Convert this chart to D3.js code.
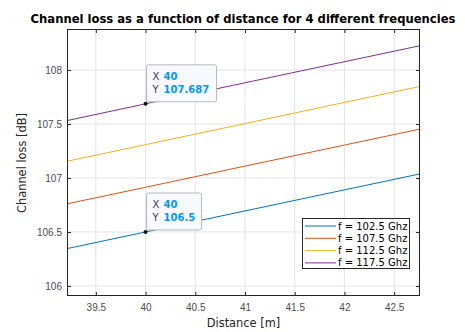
<!DOCTYPE html>
<html lang="en">
<head>
<meta charset="UTF-8">
<title>Channel loss</title>
<script src="https://d3js.org/d3.v7.min.js"></script>
<style>
    body { margin: 0; background: #fff; }
    svg { display: block; font-family: "DejaVu Sans", sans-serif; }
    .tick text { font-size: 10px; fill: #4d4d4d; }
</style>
</head>
<body>
<script>
    // data
    const distances = [39, 40, 41, 42, 43];
    const lossF1 = [106.305, 106.5, 106.695, 106.89, 107.085];
    const lossF2 = [106.72, 106.914, 107.11, 107.305, 107.5];
    const lossF3 = [107.114, 107.309, 107.504, 107.7, 107.895];
    const lossF4 = [107.49, 107.687, 107.882, 108.077, 108.272];
    const seriesNames = ["f = 102.5 Ghz", "f = 107.5 Ghz", "f = 112.5 Ghz", "f = 117.5 Ghz"];
    const xTicks = [39.5, 40, 40.5, 41, 41.5, 42, 42.5];
    const yTicks = [106, 106.5, 107, 107.5, 108];
    const tips = [{ x: 40, y: 107.687, label: "107.687" }, { x: 40, y: 106.5, label: "106.5" }];

    const colors = ["#0072BD", "#D95319", "#EDB120", "#7E2F8E"];
    const allSeries = [lossF1, lossF2, lossF3, lossF4];

    const W = 465, H = 332;
    const plotL = 67, plotR = 420, plotT = 29, plotB = 296;

    const svg = d3.select("body").append("svg").attr("width", W).attr("height", H);

    const x = d3.scaleLinear().domain([39.21, 42.76]).range([plotL, plotR]);
    const y = d3.scaleLinear().domain([105.907, 108.38]).range([plotB, plotT]);

    // grid
    svg.append("g").selectAll("line").data(xTicks).join("line")
        .attr("x1", d => x(d)).attr("x2", d => x(d)).attr("y1", plotT).attr("y2", plotB)
        .attr("stroke", "#e3e3e3").attr("stroke-width", 1);
    svg.append("g").selectAll("line").data(yTicks).join("line")
        .attr("y1", d => y(d)).attr("y2", d => y(d)).attr("x1", plotL).attr("x2", plotR)
        .attr("stroke", "#e3e3e3").attr("stroke-width", 1);

    // lines
    svg.append("clipPath").attr("id", "clip").append("rect")
        .attr("x", plotL).attr("y", plotT).attr("width", plotR - plotL).attr("height", plotB - plotT);

    const line = d3.line().x((d, i) => x(distances[i])).y(d => y(d));
    svg.append("g").attr("clip-path", "url(#clip)").selectAll("path").data(allSeries).join("path")
        .attr("d", line).attr("fill", "none")
        .attr("stroke", (d, i) => colors[i]).attr("stroke-width", 1);

    // axes (ticks point inward)
    const axisColor = "#262626";
    svg.append("g").attr("transform", `translate(0,${plotB})`)
        .call(d3.axisBottom(x).tickValues(xTicks).tickFormat(d3.format("")).tickSizeInner(-4).tickSizeOuter(0).tickPadding(8));
    svg.append("g").attr("transform", `translate(${plotL},0)`)
        .call(d3.axisLeft(y).tickValues(yTicks).tickFormat(d3.format("")).tickSizeInner(-4).tickSizeOuter(0).tickPadding(5));
    svg.append("g").attr("transform", `translate(0,${plotT})`)
        .call(d3.axisTop(x).tickValues(xTicks).tickFormat("").tickSizeInner(-4).tickSizeOuter(0));
    svg.append("g").attr("transform", `translate(${plotR},0)`)
        .call(d3.axisRight(y).tickValues(yTicks).tickFormat("").tickSizeInner(-4).tickSizeOuter(0));
    svg.selectAll(".domain").remove();
    svg.selectAll(".tick line").attr("stroke", axisColor);
    svg.append("rect").attr("x", plotL + 0.5).attr("y", plotT + 0.5)
        .attr("width", plotR - plotL - 1).attr("height", plotB - plotT - 1)
        .attr("fill", "none").attr("stroke", axisColor).attr("stroke-width", 1);

    // title and labels
    svg.append("text").attr("x", 243).attr("y", 23).attr("text-anchor", "middle")
        .attr("font-size", 11.6).attr("font-weight", "bold").attr("fill", "#000")
        .text("Channel loss as a function of distance for 4 different frequencies");
    svg.append("text").attr("x", (plotL + plotR) / 2).attr("y", 327).attr("text-anchor", "middle")
        .attr("font-size", 11.4).attr("fill", "#262626").text("Distance [m]");
    svg.append("text").attr("transform", "translate(26,163) rotate(-90)").attr("text-anchor", "middle")
        .attr("font-size", 11.4).attr("fill", "#262626").text("Channel loss [dB]");

    // data tips
    tips.forEach(t => {
        const px = x(t.x), py = y(t.y);
        const g = svg.append("g").attr("font-size", 10);
        const w = t.label.length > 5 ? 70 : 55;
        g.append("rect").attr("x", px + 1).attr("y", py - 39).attr("width", w).attr("height", 37)
            .attr("rx", 2).attr("fill", "#f8f8ff").attr("stroke", "#b9b9b9");
        g.append("text").attr("x", px + 7).attr("y", py - 24).attr("fill", "#404040").text("X");
        g.append("text").attr("x", px + 18).attr("y", py - 24).attr("fill", "#0099ff")
            .attr("font-weight", "bold").text(t.x);
        g.append("text").attr("x", px + 7).attr("y", py - 11).attr("fill", "#404040").text("Y");
        g.append("text").attr("x", px + 18).attr("y", py - 11).attr("fill", "#0099ff")
            .attr("font-weight", "bold").text(t.label);
        g.append("circle").attr("cx", px).attr("cy", py).attr("r", 2).attr("fill", "#111");
    });

    // legend
    const lg = svg.append("g").attr("transform", "translate(302,218)");
    lg.append("rect").attr("x", 0.5).attr("y", 0.5).attr("width", 107).attr("height", 50)
        .attr("fill", "#fff").attr("stroke", axisColor);
    seriesNames.forEach((name, i) => {
        const ry = 8 + i * 12.3;
        lg.append("line").attr("x1", 3).attr("x2", 34).attr("y1", ry).attr("y2", ry)
            .attr("stroke", colors[i]).attr("stroke-width", 1);
        lg.append("text").attr("x", 36).attr("y", ry + 3.5).attr("font-size", 10)
            .attr("fill", "#000").text(name);
    });
</script>
</body>
</html>
